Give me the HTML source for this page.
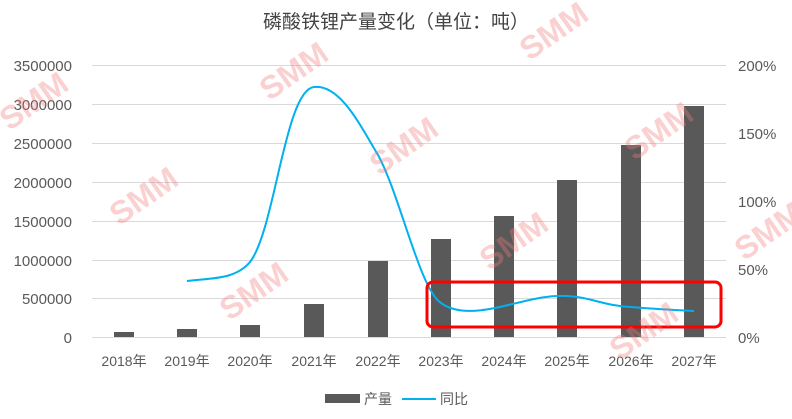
<!DOCTYPE html>
<html><head><meta charset="utf-8"><style>
body{margin:0;background:#fff;}
svg{display:block;font-family:"Liberation Sans","Noto Sans CJK SC",sans-serif;}
</style></head><body>
<svg width="792" height="419" viewBox="0 0 792 419" xmlns="http://www.w3.org/2000/svg">
<rect width="792" height="419" fill="#fff"/>
<text x="396" y="28" text-anchor="middle" font-size="19" fill="#444">磷酸铁锂产量变化（单位：吨）</text>
<g stroke="#d9d9d9" stroke-width="1">
<line x1="92" y1="65.5" x2="726" y2="65.5"/><line x1="92" y1="104.5" x2="726" y2="104.5"/>
<line x1="92" y1="143.5" x2="726" y2="143.5"/><line x1="92" y1="182.5" x2="726" y2="182.5"/>
<line x1="92" y1="221.5" x2="726" y2="221.5"/><line x1="92" y1="260.5" x2="726" y2="260.5"/>
<line x1="92" y1="298.5" x2="726" y2="298.5"/><line x1="92" y1="337.5" x2="726" y2="337.5"/>
</g>
<g font-size="15" fill="#595959" text-anchor="end">
<text x="72" y="71">3500000</text><text x="72" y="110">3000000</text><text x="72" y="149">2500000</text>
<text x="72" y="188">2000000</text><text x="72" y="227">1500000</text><text x="72" y="266">1000000</text>
<text x="72" y="304">500000</text><text x="72" y="343">0</text>
</g>
<g font-size="15" fill="#595959" text-anchor="start">
<text x="738" y="71">200%</text><text x="738" y="139">150%</text><text x="738" y="207">100%</text>
<text x="738" y="275">50%</text><text x="738" y="343">0%</text>
</g>
<g fill="#595959">
<rect x="114" y="332" width="20" height="5"/>
<rect x="177" y="329" width="20" height="8"/>
<rect x="240" y="325" width="20" height="12"/>
<rect x="304" y="304" width="20" height="33"/>
<rect x="368" y="261" width="20" height="76"/>
<rect x="431" y="239" width="20" height="98"/>
<rect x="494" y="216" width="20" height="121"/>
<rect x="557" y="180" width="20" height="157"/>
<rect x="621" y="145" width="20" height="192"/>
<rect x="684" y="106" width="20" height="231"/>
</g>
<g font-size="14" fill="#595959" text-anchor="middle">
<text x="124" y="366">2018年</text><text x="187" y="366">2019年</text><text x="250" y="366">2020年</text>
<text x="314" y="366">2021年</text><text x="378" y="366">2022年</text><text x="441" y="366">2023年</text>
<text x="504" y="366">2024年</text><text x="567" y="366">2025年</text><text x="631" y="366">2026年</text>
<text x="694" y="366">2027年</text>
</g>
<path d="M187,281 C210,278 235,280 250,262 C275,230 285,90 314,87 C340,84 360,125 378,155 C400,195 420,290 441,303 C455,313 475,313 504,306 C530,300 545,295 567,296 C590,297 605,306 631,307 C655,309 675,310 694,311" fill="none" stroke="#00b0f0" stroke-width="2"/>
<rect x="427" y="282" width="294" height="45" rx="6" fill="none" stroke="#ff0000" stroke-width="3"/>
<g font-size="32" font-weight="bold" fill="rgba(240,120,120,0.35)" text-anchor="middle">
<text transform="translate(40,110) rotate(-35)">SMM</text>
<text transform="translate(150,205) rotate(-35)">SMM</text>
<text transform="translate(260,300) rotate(-35)">SMM</text>
<text transform="translate(300,80) rotate(-35)">SMM</text>
<text transform="translate(410,155) rotate(-35)">SMM</text>
<text transform="translate(520,250) rotate(-35)">SMM</text>
<text transform="translate(560,40) rotate(-35)">SMM</text>
<text transform="translate(665,140) rotate(-35)">SMM</text>
<text transform="translate(650,340) rotate(-35)">SMM</text>
<text transform="translate(775,240) rotate(-35)">SMM</text>
</g>
<rect x="325" y="394" width="35" height="9" fill="#595959"/>
<text x="364" y="404" font-size="14" fill="#595959">产量</text>
<line x1="402" y1="399" x2="436" y2="399" stroke="#00b0f0" stroke-width="2"/>
<text x="440" y="404" font-size="14" fill="#595959">同比</text>
</svg>
</body></html>
